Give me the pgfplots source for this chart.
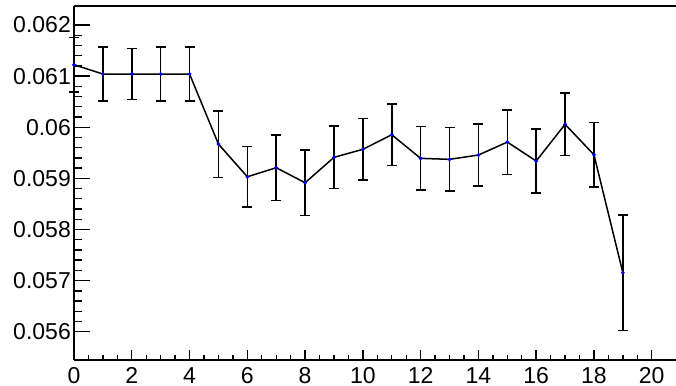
\documentclass[border=0pt]{standalone}
\usepackage{pgfplots}
\pgfplotsset{compat=1.18}
\usepackage{pgfplotstable}
\usepackage{fontspec}
\setmainfont{Liberation Sans}
\pgfplotstableread{
x y e
0 0.061223 0.00053
1 0.061041 0.00053
2 0.061041 0.00050
3 0.061041 0.00053
4 0.061041 0.00053
5 0.059671 0.00065
6 0.059031 0.00059
7 0.059208 0.00064
8 0.058914 0.00064
9 0.059411 0.00061
10 0.059568 0.00060
11 0.059853 0.00060
12 0.059391 0.00062
13 0.059372 0.00062
14 0.059456 0.00061
15 0.059710 0.00063
16 0.059339 0.00063
17 0.060057 0.00061
18 0.059462 0.00063
19 0.057153 0.00113
}\datatable
\begin{document}
\begin{tikzpicture}
\pgfplotsset{
  common/.style={
    scale only axis, width=602pt, height=354pt,
    xmin=0, xmax=20.84, ymin=0.055446, ymax=0.062372,
    axis line style={line width=1.6pt},
    tick style={line width=1.4pt, black},
    tick align=inside,
    /pgf/number format/assume math mode=true,
    tick label style={font=\fontsize{23}{26}\selectfont},
  }
}
\begin{axis}[common,
  axis x line=none, axis y line*=left,
  xtick=\empty,
  ytick={0.056,0.057,0.058,0.059,0.06,0.061,0.062},
  yticklabels={0.056,0.057,0.058,0.059,0.06,0.061,0.062},
  minor y tick num=4,
  major tick length=16pt, minor tick length=8pt,
  yticklabel style={anchor=east, inner sep=0pt, xshift=-3pt},
  clip=false,
]
\addplot[black, line width=1.5pt, mark=*, mark size=1pt,
  mark options={blue, draw=blue, fill=blue},
  error bars/.cd, y dir=both, y explicit,
  error bar style={black, line width=1.5pt},
  error mark options={rotate=90, black, line width=1.5pt, mark size=5pt}]
  table[x=x, y=y, y error=e]{\datatable};
\draw[line width=1.6pt] (rel axis cs:0,1) -- (rel axis cs:1,1);
\end{axis}
\begin{axis}[common,
  axis y line=none, axis x line*=bottom,
  ytick=\empty,
  xtick={0,2,...,20},
  minor x tick num=3,
  major tick length=10pt, minor tick length=5pt,
  xticklabel style={anchor=north, inner sep=0pt, yshift=-7pt},
]
\end{axis}
\pgfresetboundingbox
\path (current axis.south west) ++(-74pt,-25pt) coordinate (bl);
\path (current axis.north east) ++(0pt,6pt) coordinate (tr);
\path[use as bounding box] (bl) rectangle (tr);
\end{tikzpicture}
\end{document}
